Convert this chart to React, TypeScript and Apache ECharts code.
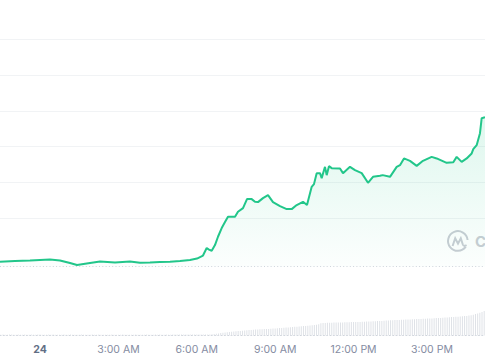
import React, { useEffect, useRef } from "react";
import * as echarts from "echarts";

// Price line: hours since 00:00 on the 24th, and price (arbitrary units)
const priceHours = [
  -1.531, -0.957, -0.383, 0.383, 0.765, 1.148, 1.416, 1.914, 2.296, 2.87, 3.444, 3.827, 4.21, 4.592, 4.975,
  5.358, 5.741, 6.008, 6.238, 6.38, 6.468, 6.571, 6.697, 6.812, 6.954, 7.08, 7.195, 7.463, 7.577, 7.769,
  7.922, 8.102, 8.228, 8.343, 8.534, 8.726, 8.917, 9.185, 9.441, 9.633, 9.824, 10.065, 10.218, 10.398,
  10.486, 10.589, 10.716, 10.781, 10.907, 10.972, 11.06, 11.163, 11.481, 11.596, 11.864, 12.055, 12.312,
  12.553, 12.744, 13.012, 13.115, 13.395, 13.651, 13.777, 13.93, 14.16, 14.416, 14.657, 14.99, 15.182,
  15.564, 15.817, 15.947, 16.138, 16.33, 16.521, 16.582, 16.712, 16.839, 16.904, 17.03,
];
const prices = [
  30.788, 30.808, 30.822, 30.85, 30.822, 30.752, 30.696, 30.752, 30.794, 30.766, 30.794, 30.758, 30.766,
  30.78, 30.788, 30.808, 30.836, 30.877, 30.961, 31.17, 31.128, 31.095, 31.253, 31.485, 31.727, 31.894,
  32.042, 32.042, 32.181, 32.284, 32.535, 32.535, 32.46, 32.451, 32.563, 32.646, 32.451, 32.34, 32.256,
  32.256, 32.368, 32.46, 32.368, 32.877, 32.953, 33.259, 33.259, 33.12, 33.435, 33.203, 33.454, 33.398,
  33.39, 33.259, 33.435, 33.343, 33.259, 32.989, 33.156, 33.184, 33.203, 33.156, 33.435, 33.482, 33.669,
  33.602, 33.462, 33.602, 33.713, 33.669, 33.546, 33.565, 33.713, 33.574, 33.669, 33.808, 33.928, 34.039,
  34.373, 34.791, 34.819,
];
const openPrice = 30.649;

// Volume: 5-minute bars starting at 22:30 on the 23rd
const volStartHour = -1.5;
const volStepMinutes = 5;
const volumes = [
  0.8, 0.9, 0.8, 0.7, 0.9, 1.0, 0.8, 0.8, 0.9, 0.7, 0.8, 0.9,
  0.8, 0.7, 0.9, 0.8, 0.8, 1.0, 0.9, 0.8, 0.7, 0.8, 0.9, 0.8,
  0.9, 0.8, 0.8, 0.7, 0.8, 0.9, 0.8, 0.8, 0.9, 0.8, 0.7, 0.8,
  0.8, 0.9, 0.8, 0.8, 0.7, 0.8, 0.9, 0.8, 0.8, 0.9, 0.8, 0.8,
  0.7, 0.8, 0.8, 0.9, 0.8, 0.8, 0.7, 0.8, 0.9, 0.8, 0.8, 0.8,
  0.8, 0.8, 0.9, 0.8, 0.7, 0.8, 0.8, 0.9, 0.8, 0.8, 0.8, 0.9,
  0.8, 0.9, 0.8, 0.8, 0.9, 0.8, 0.8, 0.9, 0.9, 1.0, 0.9, 0.9,
  1.0, 0.9, 1.0, 1.0, 0.9, 1.0, 1.0, 1.1, 1.0, 1.0, 1.1, 1.0,
  1.0, 1.2, 1.5, 1.8, 2.1, 2.4, 2.7, 3.0, 3.2, 3.5, 3.8, 4.0,
  4.2, 4.4, 4.6, 4.8, 5.0, 5.2, 5.4, 5.6, 5.8, 6.0, 6.1, 6.2,
  6.3, 6.4, 6.5, 6.6, 6.8, 7.0, 7.1, 7.2, 7.4, 7.6, 7.8, 8.0,
  8.1, 8.3, 8.5, 8.7, 8.8, 9.0, 9.2, 9.4, 9.6, 9.8, 10.0, 10.3,
  10.6, 10.8, 11.2, 12.2, 12.5, 12.6, 12.7, 12.8, 12.8, 12.9, 13.0, 13.0,
  13.1, 13.1, 13.2, 13.2, 13.3, 13.4, 13.4, 13.5, 13.5, 13.6, 13.7, 13.8,
  13.9, 14.0, 14.1, 14.2, 14.3, 14.4, 14.5, 14.6, 14.8, 15.0, 15.1, 15.2,
  15.3, 15.4, 15.5, 15.6, 15.7, 15.8, 15.9, 16.0, 16.1, 16.2, 16.3, 16.4,
  16.5, 16.6, 16.7, 16.8, 16.9, 17.0, 17.1, 17.2, 17.4, 17.5, 17.6, 17.8,
  18.0, 18.1, 18.2, 18.4, 18.5, 18.7, 18.8, 19.0, 19.2, 19.4, 19.6, 19.9,
  20.3, 20.8, 21.4, 22.0, 22.8, 23.6, 24.5,
];

// X axis: visible time window (hours) and labelled ticks
const xMinHour = -1.531;
const xMaxHour = 17.031;
const xTickHours = [0, 3, 6, 9, 12, 15];
const xTickLabels = ["24", "3:00 AM", "6:00 AM", "9:00 AM", "12:00 PM", "3:00 PM"];

const LOGO_D =
  "M 19.8 17.2 A 9.8 9.8 0 1 1 21.6 10.5 M 6.6 16.5 L 9.2 8.8 L 12 14.2 L 14.8 8.8 L 16.8 15 Q 17.6 17.2 20.6 15.6";

let logoRegistered = false;

export default function App() {
  const ref = useRef<HTMLDivElement>(null);
  useEffect(() => {
    if (!ref.current) return;
    if (!logoRegistered) {
      echarts.graphic.registerShape("logo", echarts.graphic.extendPath(LOGO_D, {}) as any);
      logoRegistered = true;
    }
    const chart = echarts.init(ref.current, undefined, { renderer: "svg" });
    const priceData = priceHours.map((h, i) => [h, prices[i]]);
    const volData = volumes.map((v, i) => [volStartHour + (i * volStepMinutes) / 60, v]);
    const labelFor = (val: number) => {
      let best = -1;
      let bd = 1e9;
      xTickHours.forEach((t, i) => {
        const d = Math.abs(t - val);
        if (d < bd) {
          bd = d;
          best = i;
        }
      });
      return best >= 0 && bd < 0.01 ? xTickLabels[best] : "";
    };
    chart.setOption({
      animation: false,
      backgroundColor: "#ffffff",
      grid: [
        { left: 0, right: 0, top: 39, bottom: 141.6 },
        { left: 0, right: 0, top: 39, bottom: 70 },
        { left: 0, right: 0, top: 275.5, bottom: 24.5 },
      ],
      xAxis: [
        { type: "value", gridIndex: 0, min: xMinHour, max: xMaxHour, show: false },
        { type: "value", gridIndex: 1, min: xMinHour, max: xMaxHour, show: false },
        {
          type: "value",
          gridIndex: 2,
          min: xMinHour,
          max: xMaxHour,
          splitLine: { show: false },
          axisTick: { show: false },
          axisLine: { show: true, lineStyle: { color: "#cfd4dc", type: [1, 2.3], width: 1 } },
          axisLabel: {
            customValues: xTickHours,
            margin: 8,
            fontFamily: "Inter",
            fontSize: 10.5,
            color: "#858ca2",
            formatter: (val: number) => {
              const s = labelFor(val);
              return s === "24" ? "{b|24}" : s;
            },
            rich: {
              b: { fontFamily: "Inter", fontSize: 10.5, fontWeight: "bold", color: "#616e85" },
            },
          },
        },
      ],
      yAxis: [
        {
          type: "value",
          gridIndex: 0,
          min: 0,
          max: 5,
          interval: 1,
          axisLabel: { show: false },
          axisLine: { show: false },
          axisTick: { show: false },
          splitLine: { show: true, lineStyle: { color: "#f1f3f5", width: 1 } },
        },
        { type: "value", gridIndex: 1, min: 30, max: 37, show: false, splitLine: { show: false } },
        { type: "value", gridIndex: 2, min: 0, max: 60, show: false, splitLine: { show: false } },
      ],
      series: [
        {
          type: "bar",
          xAxisIndex: 2,
          yAxisIndex: 2,
          data: volData,
          barWidth: 1,
          itemStyle: { color: "#dfe2e7" },
          silent: true,
        },
        {
          type: "line",
          xAxisIndex: 1,
          yAxisIndex: 1,
          data: priceData,
          showSymbol: false,
          symbol: "none",
          lineStyle: { color: "#22c68a", width: 2 },
          areaStyle: {
            origin: openPrice,
            color: new echarts.graphic.LinearGradient(0, 0, 0, 1, [
              { offset: 0, color: "rgba(22,199,132,0.2)" },
              { offset: 1, color: "rgba(22,199,132,0.02)" },
            ]),
          },
          markLine: {
            silent: true,
            symbol: "none",
            label: { show: false },
            lineStyle: { color: "#cfd4dc", type: [1, 2.3], width: 1 },
            data: [{ yAxis: openPrice }],
          },
        },
      ],
      graphic: [
        {
          type: "logo",
          x: 446,
          y: 229.5,
          silent: true,
          style: { fill: "none", stroke: "#c9cdd4", lineWidth: 2 },
        },
        {
          type: "text",
          x: 475,
          y: 241.5,
          silent: true,
          style: {
            text: "CoinMarketCap",
            fontFamily: "Inter",
            fontSize: 15,
            fontWeight: "bold",
            fill: "#c9cdd4",
            verticalAlign: "middle",
          },
        },
      ],
    });
    return () => chart.dispose();
  }, []);
  return <div ref={ref} style={{ position: "fixed", left: 0, top: 0, width: 485, height: 360 }} />;
}
